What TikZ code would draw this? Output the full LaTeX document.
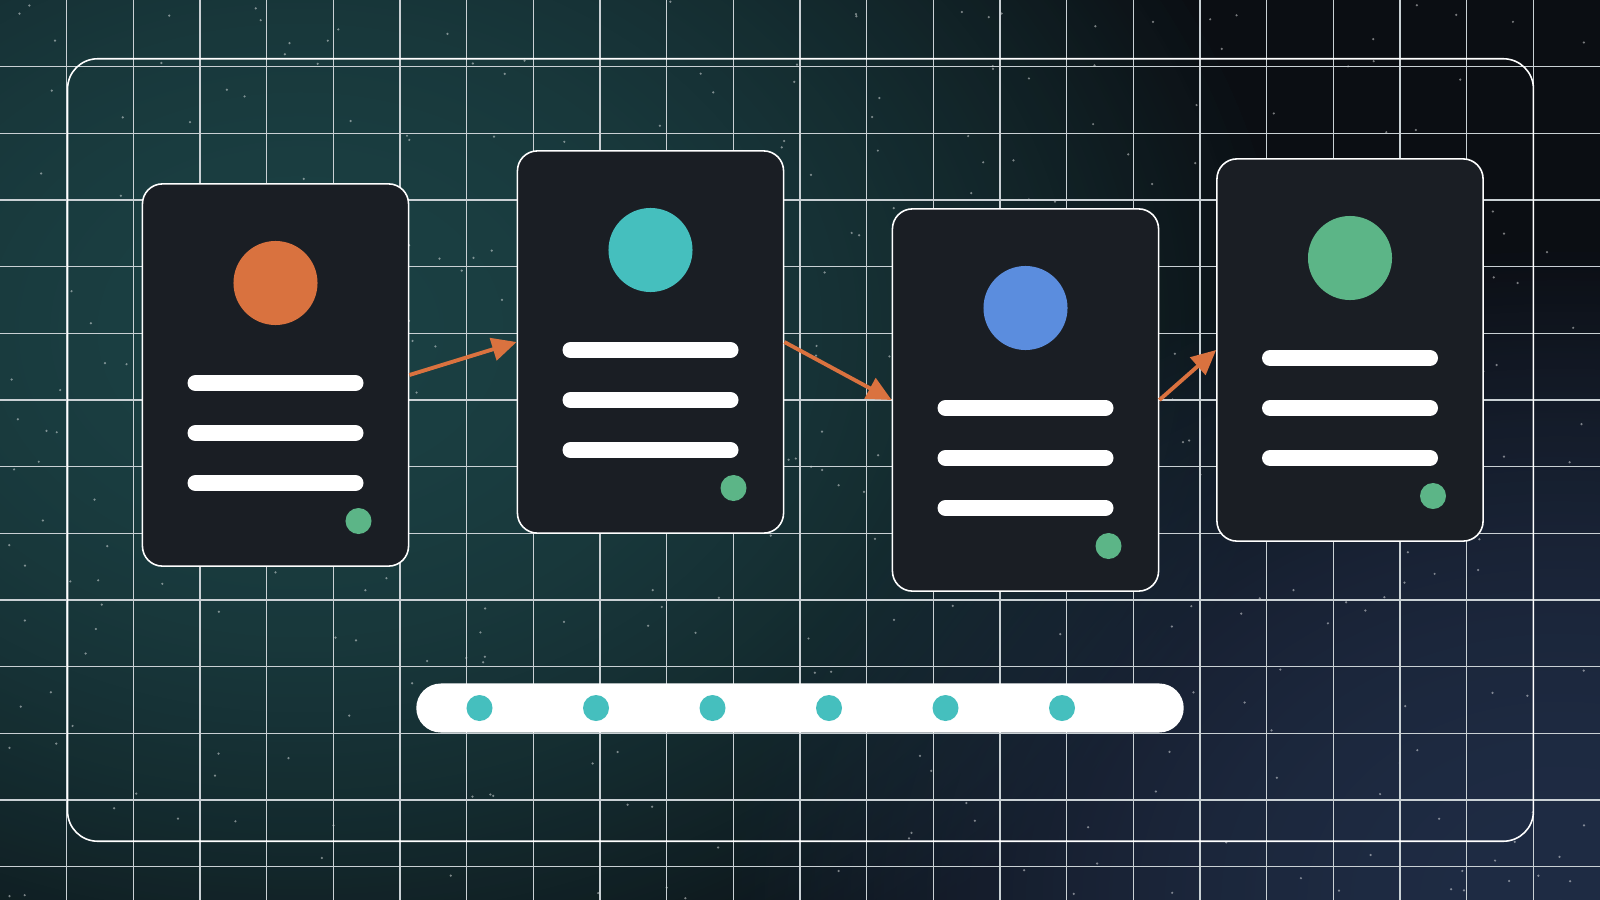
\documentclass[tikz,border=0pt]{standalone}
\usepackage{tikz}
\usetikzlibrary{arrows.meta,fadings}
\definecolor{bgbase}{HTML}{0B0E13}
\definecolor{bgteal}{HTML}{1B4043}
\definecolor{bgnavy}{HTML}{1F2C44}
\definecolor{gridgray}{HTML}{C9D0D4}
\definecolor{cardfill}{HTML}{1A1E24}
\definecolor{dotorange}{HTML}{D9723F}
\definecolor{dotteal}{HTML}{45BFBE}
\definecolor{dotblue}{HTML}{5B8DDE}
\definecolor{dotgreen}{HTML}{5CB587}
\definecolor{flowcol}{HTML}{DA723F}
\tikzfading[name=softglow, inner color=transparent!0, outer color=transparent!100]

\begin{document}
\begin{tikzpicture}[x=0.01cm, y=-0.01cm,
		gridline/.style={gridgray, line width=0.4pt},
		glow/.style={path fading=softglow},
		frame/.style={draw=white, line width=0.45pt, rounded corners=0.3cm, minimum width=14.65cm, minimum height=7.82cm, inner sep=0pt},
		card/.style={draw=white, line width=0.45pt, fill=cardfill, rounded corners=0.2cm, minimum width=2.66cm, minimum height=3.82cm, inner sep=0pt},
		avatar/.style={circle, minimum size=0.84cm, inner sep=0pt},
		status/.style={circle, fill=dotgreen, minimum size=0.26cm, inner sep=0pt},
		textline/.style={white, line width=4.55pt, line cap=round},
		track/.style={fill=white, rounded corners=0.245cm, minimum width=7.67cm, minimum height=0.49cm, inner sep=0pt},
		stop/.style={circle, fill=dotteal, minimum size=0.26cm, inner sep=0pt},
		flow/.style={flowcol, line width=1.1pt, -{Triangle[length=7pt, width=6.5pt]}}]
	  \useasboundingbox (0,0) rectangle (1600,900);
	  \begin{scope}
	  \clip (0,0) rectangle (1600,900);
	  \fill[bgbase] (0,0) rectangle (1600,900);
	  % background glows
	  \foreach \g in {1,2} {
	    \fill[bgteal, glow] (300,330) ellipse [x radius=10cm, y radius=7.6cm];
	    \fill[bgnavy, glow] (1560,900) ellipse [x radius=8.4cm, y radius=6.6cm];
	  }

	  % stars
	  \pgfmathsetseed{11}
	  \foreach \s in {1,...,380}
	    \fill[white, opacity=0.45] ({1600*rnd},{900*rnd}) circle (0.35pt);

	  % grid
	  \foreach \i in {1,...,23}
	    \draw[gridline] (\i*66.667,0) -- (\i*66.667,900);
	  \foreach \j in {1,...,13}
	    \draw[gridline] (0,\j*66.667) -- (1600,\j*66.667);
	  \end{scope}

	  \node[frame] (panel) at (800.5,450) {};

	  % cards
	  \foreach \n/\cx/\top/\col in {1/275.5/184/dotorange, 2/650.5/151/dotteal, 3/1025.5/209/dotblue, 4/1350/159/dotgreen} {
	    \node[card] (card\n) at (\cx,\top+191) {};
	    \node[avatar, fill=\col] (avatar\n) at (\cx,\top+99) {};
	    \foreach \k in {199,249,299}
	      \draw[textline] (\cx-80,\top+\k) -- (\cx+80,\top+\k);
	    \node[status] (status\n) at (\cx+83,\top+337) {};
	  }

	  \draw[flow] (card1.east) -- (card2.west);
	  \draw[flow] (card2.east) -- (card3.west);
	  \draw[flow] (card3.east) -- (card4.west);

	  % progress track
	  \node[track] (bar) at (800,708) {};
	  \foreach \m in {0,...,5}
	    \node[stop] (stop\m) at (479.5+116.5*\m,708) {};
	 \end{tikzpicture}
\end{document}
